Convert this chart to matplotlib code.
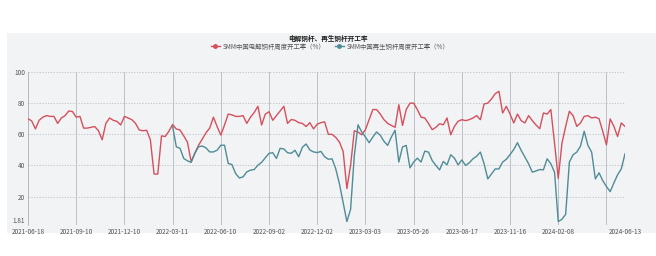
import matplotlib
matplotlib.use("Agg")
import matplotlib.pyplot as plt
import numpy as np
from matplotlib.patches import Rectangle
from matplotlib.lines import Line2D

plt.rcParams['font.family'] = ['Noto Sans CJK SC', 'DejaVu Sans']

title = "电解铜杆、再生铜杆开工率"
series_names = ["SMM中国电解铜杆周度开工率（%）", "SMM中国再生铜杆周度开工率（%）"]

tick_labels = ["2021-06-18", "2021-09-10", "2021-12-10", "2022-03-11", "2022-06-10",
               "2022-09-02", "2022-12-02", "2023-03-03", "2023-05-26", "2023-08-17",
               "2023-11-16", "2024-02-08", "", "2024-06-13"]

red = [70, 68.6, 63.5, 69, 71, 72, 71.5, 71.5, 67, 70.5,
       72, 75, 74.6, 71, 71.5, 64, 64, 64.5, 65, 62.3,
       56.5, 67, 70.5, 69, 68.3, 66, 71.5, 70.5, 69.4, 67,
       62.8, 62.3, 62.6, 56.5, 34.5, 34.5, 59, 58.6, 62, 66.3,
       63.4, 62.8, 59, 55, 42.4, 48, 53, 57, 61, 64,
       71, 65, 59.5, 66, 73, 72.5, 71.5, 71.5, 72, 67,
       71, 74, 78, 66, 73, 74.5, 69, 72, 75, 78,
       67, 69.5, 69, 67.5, 67, 65, 67.5, 63.5, 66.5, 67.5,
       68, 60, 60, 58, 55, 48.9, 25.2, 40.2, 62.3, 61.5,
       59.7, 63, 69.4, 75.9, 75.9, 73, 69.4, 67, 65.7, 64.5,
       79, 65.7, 75.9, 80, 80, 75.9, 71, 70.5, 67, 63,
       64.5, 66.8, 66.1, 70.5, 59.7, 65.1, 68.4, 69.4, 68.8, 69.4,
       70.5, 72, 69.4, 79.5, 80, 82.7, 86.1, 87.6, 73.7, 78,
       73, 67.3, 73, 68.8, 67.3, 72, 68.8, 66, 63.6, 73.7,
       73, 75.9, 54.3, 31.7, 54.3, 65.1, 74.8, 72, 65.1, 67.3,
       71.5, 72, 70.5, 71, 70, 61.9, 53.2, 69.9, 65.1, 58.6,
       67.3, 65.1]

blue = [None] * 39 + [
       65, 52, 51, 44.5, 43, 42, 47.8, 52, 52.5, 51.3,
       48.7, 48.7, 49.8, 53, 53, 41.3, 40.6, 34.8, 32, 32.7,
       35.9, 37, 37.4, 40.2, 42, 45, 47.8, 48.2, 44.5, 51,
       50.6, 48.2, 47.8, 49.8, 45.6, 51.7, 53.8, 50, 48.7, 48.3,
       49, 45.6, 44, 44.3, 37.8, 28.1, 16.2, 4, 11.9, 46.4,
       66.1, 61.5, 58.3, 54.6, 58.3, 61.5, 59.4, 55.5, 52.9, 58.3,
       62.6, 42.2, 51.9, 52.9, 38.5, 42.2, 44.7, 42.2, 49.2, 48.6,
       43.2, 40, 37.2, 42.6, 40.4, 46.9, 44.7, 40.4, 43.6, 40,
       41.7, 44.3, 46, 48.6, 41.1, 31.4, 34.6, 37.8, 37.8, 42.2,
       44, 47, 50.3, 54.6, 49.7, 45.4, 41.1, 35.7, 36.5, 37.4,
       37.2, 44.3, 41.1, 35.7, 4, 5.5, 8.7, 42.2, 46.9, 48.6,
       52.5, 62, 52.9, 48.6, 31.4, 35.3, 30.3, 26.5, 23.2, 28.8,
       34, 37.8, 47.5]

y_ticks = [1.81, 20, 40, 60, 80, 100]

RED = "#d4505c"
BLUE = "#4f8c96"

W, H = 656, 256
fig = plt.figure(figsize=(W / 100, H / 100), dpi=100)
fig.patch.set_facecolor("white")
bg = fig.add_axes([7 / W, 1 - 233 / H, (W - 7) / W, 200 / H], zorder=-5)
bg.set_facecolor("#f2f3f5")
bg.set_xticks([]); bg.set_yticks([])
for s in bg.spines.values():
    s.set_visible(False)

ax = fig.add_axes([28 / W, 1 - 225 / H, (625 - 28) / W, (225 - 72) / H], zorder=1)
ax.set_facecolor("none")

n = len(red)
x = np.arange(n)
ax.plot(x, red, color=RED, lw=1.0, zorder=3)
bx = np.array([np.nan if v is None else v for v in blue], dtype=float)
ax.plot(x, bx, color=BLUE, lw=1.0, zorder=3)

ax.set_xlim(0, n - 1)
ax.set_ylim(y_ticks[0], y_ticks[-1])

tick_pos = list(range(0, 13 * 13, 13))
tick_pos = tick_pos[:len(tick_labels) - 1] + [n - 1]
ax.set_xticks(tick_pos)
ax.set_xticklabels(tick_labels, fontsize=4.6, color="#555555")
ax.set_yticks(y_ticks)
ax.set_yticklabels([f"{v:g}" for v in y_ticks], fontsize=4.6, color="#555555")
ax.tick_params(length=0, pad=2)
for lab in ax.get_yticklabels():
    if lab.get_text() == "1.81":
        lab.set_va("bottom")

ax.grid(axis="x", color="#b4b8bf", lw=0.6, ls="-")
ax.grid(axis="y", color="#b4b8bf", lw=0.5, ls=(0, (2, 2)))
for s in ["top", "right", "bottom"]:
    ax.spines[s].set_visible(False)
ax.spines["left"].set_color("#b4b8bf")
ax.spines["left"].set_linewidth(0.6)

fig.text(328 / W, 1 - 38 / H, title, ha="center", va="center", fontsize=4.8,
         fontweight="bold", color="#222222")

handles = [Line2D([], [], color=RED, lw=1.0, marker="o", markersize=2.5),
           Line2D([], [], color=BLUE, lw=1.0, marker="o", markersize=2.5)]
leg = fig.legend(handles, series_names, loc="center", bbox_to_anchor=(330 / W, 1 - 46.5 / H),
                 ncol=2, frameon=False, fontsize=4.6, handlelength=1.4,
                 handletextpad=0.4, columnspacing=1.5)
for t in leg.get_texts():
    t.set_color("#555555")

fig.savefig("out.png", dpi=100)
